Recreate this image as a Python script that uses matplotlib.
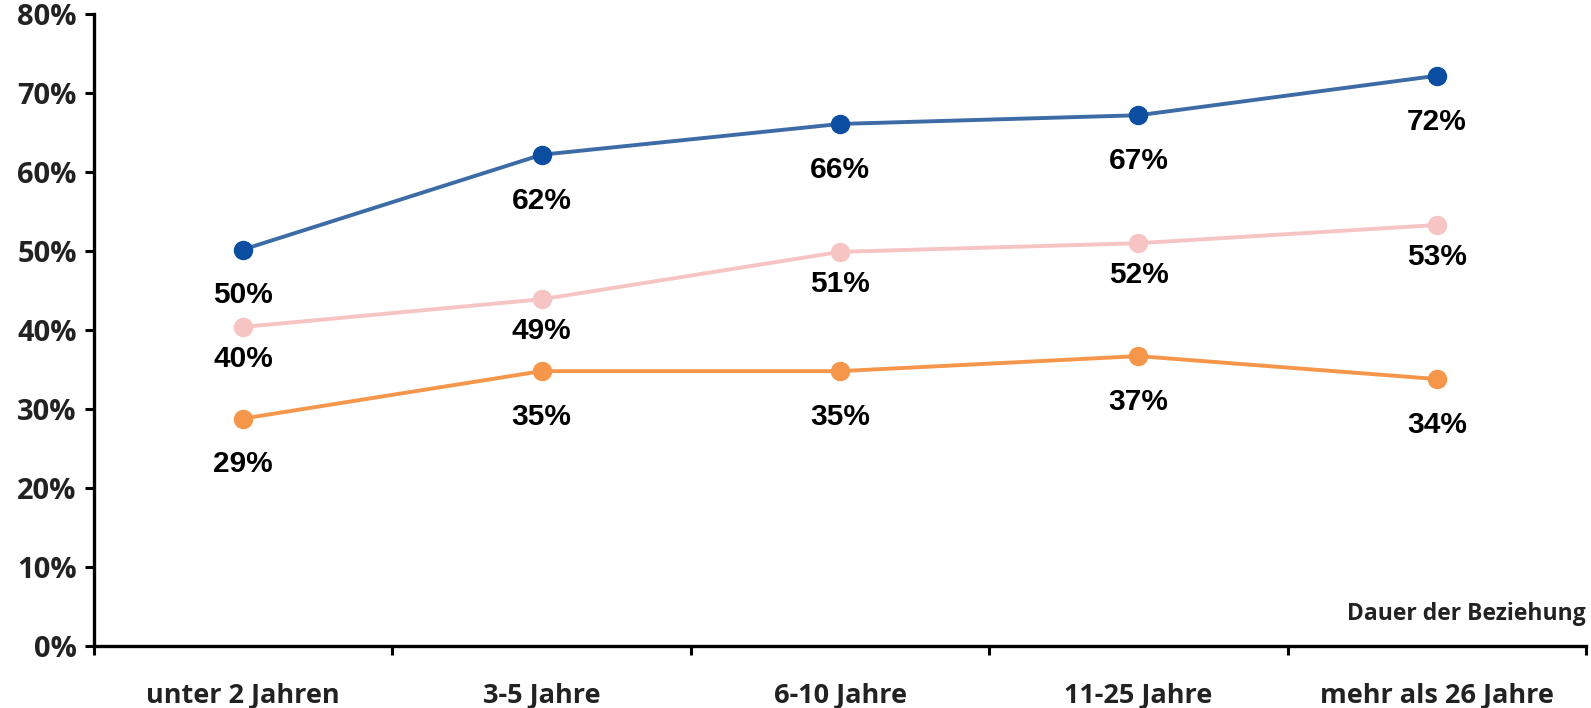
import matplotlib
matplotlib.use("Agg")
import matplotlib.pyplot as plt
from matplotlib.ticker import FixedLocator, PercentFormatter

# Kategorien (Dauer der Beziehung)
categories = ["unter 2 Jahren", "3-5 Jahre", "6-10 Jahre", "11-25 Jahre", "mehr als 26 Jahre"]

# Werte so wie sie im Bild liegen, und die Beschriftungen wie gedruckt
blue_vals = [50.2, 62.2, 66.1, 67.2, 72.2]
blue_labels = ["50%", "62%", "66%", "67%", "72%"]
pink_vals = [40.4, 43.9, 49.9, 51.0, 53.3]
pink_labels = ["40%", "49%", "51%", "52%", "53%"]
orange_vals = [28.8, 34.8, 34.8, 36.7, 33.8]
orange_labels = ["29%", "35%", "35%", "37%", "34%"]

yticks = [0, 10, 20, 30, 40, 50, 60, 70, 80]

series = [
    # values, labels, line colour, marker colour, label offset (pt)
    (blue_vals, blue_labels, "#3C6BA6", "#0B4DA0", -33),
    (pink_vals, pink_labels, "#F7C4C4", "#F7C4C4", -23),
    (orange_vals, orange_labels, "#F5964B", "#F5964B", -33),
]

fig = plt.figure(figsize=(15.91, 7.08), dpi=100)
ax = fig.add_axes([0.0591, 0.0876, 0.9378, 0.8924])

x = list(range(len(categories)))
for vals, labels, lc, mc, off in series:
    ax.plot(x, vals, color=lc, lw=2.8, marker="o", ms=13,
            mfc=mc, mec=mc, zorder=3)
    for xi, v, lab in zip(x, vals, labels):
        ax.annotate(lab, (xi, v), xytext=(0, off), textcoords="offset points",
                    ha="center", va="center", fontsize=21.5, fontweight="bold",
                    family="Liberation Sans", color="black")

ax.set_xlim(-0.5, len(categories) - 0.5)
ax.set_ylim(0, 80)
ax.set_yticks(yticks)
ax.yaxis.set_major_formatter(PercentFormatter(decimals=0))

ax.set_xticks(x)
ax.set_xticklabels(categories)
ax.xaxis.set_minor_locator(FixedLocator([i - 0.5 for i in range(len(categories) + 1)]))

for s in ["top", "right"]:
    ax.spines[s].set_visible(False)
for s in ["left", "bottom"]:
    ax.spines[s].set_linewidth(2.4)
    ax.spines[s].set_color("black")

ax.tick_params(axis="y", length=6.5, width=2.2, pad=6, labelsize=21,
               labelcolor="#222222")
ax.tick_params(axis="x", which="major", length=0, pad=27, labelsize=19.5,
               labelcolor="#222222")
ax.tick_params(axis="x", which="minor", length=6.5, width=2.2)
for t in ax.get_xticklabels() + ax.get_yticklabels():
    t.set_family("Open Sans")
    t.set_fontweight("bold")

ax.text(1.0, 0.05, "Dauer der Beziehung", transform=ax.transAxes,
        ha="right", va="center", fontsize=16.5, family="Open Sans",
        fontweight="bold", color="#222222")

fig.savefig("out.png", dpi=100)
